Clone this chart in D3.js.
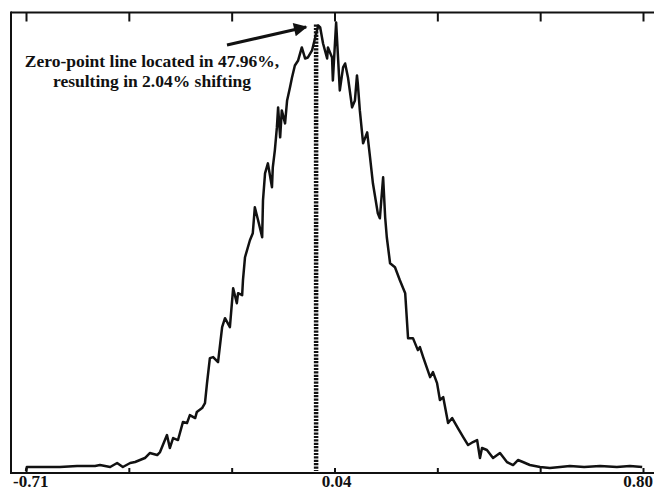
<!DOCTYPE html>
<html>
<head>
<meta charset="utf-8">
<script src="https://cdn.jsdelivr.net/npm/d3@7"></script>
<style>
  body { margin: 0; background: #fff; }
  svg { display: block; }
</style>
</head>
<body>
<svg id="chart" width="654" height="490"></svg>
<script>
// distribution of values (x) and their frequency (y)
const xValues = [
  -0.710, -0.708, -0.664, -0.627, -0.585, -0.541, -0.529, -0.504, -0.487, -0.473,
  -0.455, -0.443, -0.431, -0.419, -0.407, -0.389, -0.382, -0.365, -0.358, -0.350,
  -0.338, -0.326, -0.316, -0.309, -0.296, -0.292, -0.279, -0.272, -0.267, -0.260,
  -0.252, -0.240, -0.230, -0.223, -0.211, -0.203, -0.194, -0.191, -0.181, -0.179,
  -0.174, -0.162, -0.155, -0.150, -0.142, -0.132, -0.130, -0.125, -0.118, -0.108,
  -0.106, -0.101, -0.096, -0.093, -0.088, -0.084, -0.076, -0.071, -0.064, -0.059,
  -0.052, -0.044, -0.035, -0.027, -0.020, -0.010, 0.005, 0.010, 0.017, 0.027,
  0.029, 0.039, 0.041, 0.049, 0.058, 0.066, 0.071, 0.078, 0.088, 0.095,
  0.100, 0.102, 0.107, 0.115, 0.125, 0.132, 0.139, 0.151, 0.156, 0.164,
  0.169, 0.173, 0.181, 0.193, 0.205, 0.218, 0.225, 0.237, 0.249, 0.254,
  0.262, 0.279, 0.286, 0.296, 0.303, 0.311, 0.323, 0.333, 0.347, 0.360,
  0.372, 0.384, 0.394, 0.401, 0.406, 0.418, 0.433, 0.450, 0.467, 0.482,
  0.494, 0.506, 0.523, 0.548, 0.572, 0.597, 0.621, 0.656, 0.695, 0.736,
  0.768, 0.798
];
const counts = [
  2, 6, 6, 6, 7, 7, 8, 6, 10, 6,
  10, 11, 13, 15, 20, 18, 21, 38, 25, 35,
  33, 51, 50, 58, 55, 61, 65, 70, 90, 115,
  116, 111, 146, 155, 146, 185, 170, 180, 178, 193,
  216, 233, 240, 266, 253, 236, 273, 300, 310, 286,
  306, 323, 346, 366, 336, 363, 350, 373, 386, 396,
  408, 413, 426, 415, 416, 423, 448, 446, 430, 415,
  426, 416, 393, 451, 383, 406, 410, 396, 366, 373,
  398, 390, 363, 330, 341, 316, 290, 260, 255, 296,
  256, 236, 210, 206, 193, 180, 135, 135, 123, 126,
  116, 96, 101, 90, 73, 76, 50, 55, 45, 36,
  28, 31, 33, 15, 25, 23, 15, 20, 11, 8,
  13, 11, 8, 6, 5, 6, 7, 6, 7, 6,
  7, 6
];

const xMin = -0.71, xMax = 0.80;
const tickCount = 7;
const tickLabels = ["-0.71", "", "", "0.04", "", "", "0.80"];
const zeroPoint = 0;
const noteLines = ["Zero-point line located in 47.96%,", "resulting in 2.04% shifting"];

const fontFamily = "'Liberation Serif', 'DejaVu Serif', 'Times New Roman', serif";

const svg = d3.select("#chart")
  .attr("font-family", fontFamily)
  .attr("font-weight", "bold");
const frame = { left: 11, right: 654, top: 12.5, bottom: 473 };

const x = d3.scaleLinear().domain([xMin, xMax]).range([26, 643]);
const y = d3.scaleLinear().domain([0, 461]).range([frame.bottom, frame.top]);

const tickValues = d3.range(tickCount).map((i) => xMin + (i * (xMax - xMin)) / (tickCount - 1));

// Curve
const data = xValues.map((v, i) => ({ x: v, y: counts[i] }));
svg.append("path")
  .datum(data)
  .attr("fill", "none")
  .attr("stroke", "#111")
  .attr("stroke-width", 2.5)
  .attr("stroke-linejoin", "round")
  .attr("d", d3.line().x((d) => x(d.x)).y((d) => y(d.y)));

// Zero-point dashed line
svg.append("line")
  .attr("x1", x(zeroPoint)).attr("x2", x(zeroPoint))
  .attr("y1", y(449)).attr("y2", frame.bottom - 2)
  .attr("stroke", "#111")
  .attr("stroke-width", 4.5)
  .attr("stroke-dasharray", "2.2,1.2");

// Frame (left, top, bottom; no right border)
const frameG = svg.append("g").attr("stroke", "#111").attr("stroke-width", 2);
frameG.append("line").attr("x1", frame.left).attr("x2", frame.right).attr("y1", frame.top).attr("y2", frame.top);
frameG.append("line").attr("x1", frame.left).attr("x2", frame.right).attr("y1", frame.bottom).attr("y2", frame.bottom);
frameG.append("line").attr("x1", frame.left).attr("x2", frame.left).attr("y1", frame.top - 1).attr("y2", frame.bottom + 1);

// Ticks, pointing inward
const bottomAxis = d3.axisBottom(x).tickValues(tickValues).tickSizeInner(-5).tickSizeOuter(0).tickFormat("");
const topAxis = d3.axisTop(x).tickValues(tickValues).tickSizeInner(-9).tickSizeOuter(0).tickFormat("");
svg.append("g").attr("transform", `translate(0,${frame.bottom})`).call(bottomAxis)
  .call((g) => g.select(".domain").remove())
  .call((g) => g.selectAll("line").attr("stroke", "#111").attr("stroke-width", 2));
svg.append("g").attr("transform", `translate(0,${frame.top})`).call(topAxis)
  .call((g) => g.select(".domain").remove())
  .call((g) => g.selectAll("line").attr("stroke", "#111").attr("stroke-width", 2));

// Tick labels: first and last are kept inside the picture
const lastTick = tickCount - 1;
svg.append("g").selectAll("text")
  .data(tickValues.map((v, i) => ({ v, label: tickLabels[i], i })).filter((d) => d.label))
  .join("text")
  .attr("x", (d) => (d.i === 0 ? x(d.v) - 13 : d.i === lastTick ? 653 : x(d.v) + 2))
  .attr("y", 487)
  .attr("text-anchor", (d) => (d.i === 0 ? "start" : d.i === lastTick ? "end" : "middle"))
  .attr("font-size", 17)
  .attr("fill", "#111")
  .text((d) => d.label);

// Annotation text
svg.append("g").selectAll("text")
  .data(noteLines)
  .join("text")
  .attr("x", 152)
  .attr("y", (d, i) => 67 + i * 20)
  .attr("text-anchor", "middle")
  .attr("font-size", 17.5)
  .attr("fill", "#111")
  .text((d) => d);

// Arrow
svg.append("defs").append("marker")
  .attr("id", "head")
  .attr("viewBox", "0 0 10 10")
  .attr("refX", 9).attr("refY", 5)
  .attr("markerWidth", 6).attr("markerHeight", 4.5)
  .attr("markerUnits", "strokeWidth")
  .attr("orient", "auto")
  .append("path")
  .attr("d", "M0,0 L10,5 L0,10 z")
  .attr("fill", "#111");

svg.append("line")
  .attr("x1", 227).attr("y1", 45)
  .attr("x2", x(zeroPoint) - 10).attr("y2", 27)
  .attr("stroke", "#111")
  .attr("stroke-width", 3)
  .attr("marker-end", "url(#head)");
</script>
</body>
</html>
